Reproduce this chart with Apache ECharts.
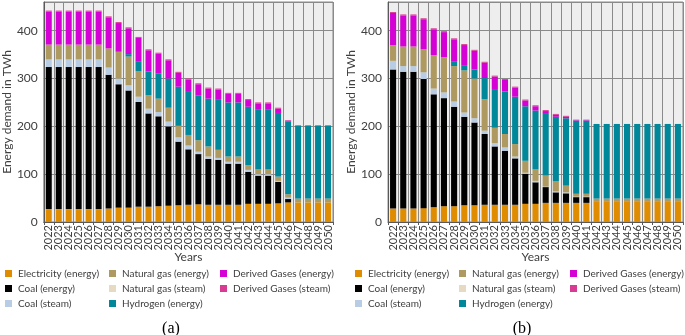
<!DOCTYPE html>
<html>
<head>
<meta charset="utf-8">
<script src="https://cdn.jsdelivr.net/npm/echarts@6/dist/echarts.min.js"></script>
<style>
  html, body { margin: 0; padding: 0; background: #fff; }
  #chart { width: 685px; height: 335px; }
</style>
</head>
<body>
<div id="chart"></div>
<script>
// years 2022-2050
const years = ["2022","2023","2024","2025","2026","2027","2028","2029","2030","2031","2032","2033","2034","2035","2036","2037","2038","2039","2040","2041","2042","2043","2044","2045","2046","2047","2048","2049","2050"];
const yTicks = [0, 100, 200, 300, 400];

// panel (a), TWh
const elecA  = [27,27,27,27,27,27,28,30,30,32,32,33,34,35,36,37,36,36,36,36,38,38,38,39,41,41,41,41,41];
const coalEA = [297,297,297,297,297,297,280,258,245,219,195,188,166,133,116,105,96,94,86,86,67,59,59,45,7,0,0,0,0];
const coalSA = [16,16,16,16,16,16,15,12,11,11,10,9,10,9,8,5,5,4,4,4,4,3,3,2,3,0,0,0,0];
const ngEA   = [31,31,31,31,31,31,40,56,60,53,28,28,29,24,22,24,21,17,11,11,10,10,10,9,7,8,8,8,8];
const ngSA   = [0,0,0,0,0,0,0,0,0,0,0,0,0,0,0,0,0,0,0,0,0,0,0,0,0,0,0,0,0];
const h2A    = [0,0,0,0,0,0,0,0,5,20,50,53,61,82,90,94,100,106,113,113,122,126,126,133,152,153,153,153,153];
const dgEA   = [69,69,69,69,69,69,65,60,54,50,44,41,38,29,26,23,21,20,18,18,14,12,12,9,2,0,0,0,0];
const dgSA   = [2,2,2,2,2,2,2,2,2,2,2,2,2,2,2,2,2,2,2,2,2,2,2,2,1,0,0,0,0];

// panel (b), TWh
const elecB  = [28,28,28,29,31,33,33,35,35,36,36,36,36,38,38,40,40,40,40,40,42,42,42,42,42,42,42,42,42];
const coalEB = [291,286,286,270,236,226,208,185,173,148,122,113,97,63,45,33,22,20,12,12,0,0,0,0,0,0,0,0,0];
const coalSB = [18,12,12,14,12,12,11,9,9,7,7,7,4,2,3,1,2,2,1,1,0,0,0,0,0,0,0,0,0];
const ngEB   = [33,41,41,48,70,74,74,88,83,66,32,28,26,25,24,23,21,14,6,6,7,7,7,7,7,7,7,7,7];
const ngSB   = [0,0,0,0,0,0,0,0,0,0,0,0,0,0,0,0,0,0,0,0,0,0,0,0,0,0,0,0,0];
const h2B    = [0,0,0,0,0,0,9,11,19,44,81,89,99,114,123,129,135,141,153,153,156,156,156,156,156,156,156,156,156];
const dgEB   = [67,65,65,63,54,52,47,42,39,32,26,24,19,12,9,6,4,3,1,1,0,0,0,0,0,0,0,0,0];
const dgSB   = [2,2,2,2,2,2,2,2,2,2,2,2,2,2,2,2,2,2,1,1,0,0,0,0,0,0,0,0,0];

const names = ["Electricity (energy)", "Coal (energy)", "Coal (steam)", "Natural gas (energy)",
  "Natural gas (steam)", "Hydrogen (energy)", "Derived Gases (energy)", "Derived Gases (steam)"];
const colors = ["#E08C00", "#000000", "#B8CCE4", "#AE9A60", "#E6DBC2", "#00879A", "#D400D4", "#D83C92"];

const FONT = "Lato";
const txt = "#404040";
const gridLine = "#8a8a8a";

function makeX(idx) {
  return {
    type: "category", gridIndex: idx, data: years,
    name: "Years", nameLocation: "middle", nameGap: 29, nameMoveOverlap: false,
    nameTextStyle: { fontFamily: FONT, fontSize: 12, color: txt },
    axisLine: { lineStyle: { color: "#595959" } },
    axisTick: { show: true, length: 3, lineStyle: { color: "#595959" } },
    axisLabel: { rotate: 90, interval: 0, fontFamily: FONT, fontSize: 11, color: txt, margin: 3 },
    splitLine: { show: true, interval: 0, lineStyle: { color: gridLine, width: 1 } }
  };
}
function makeY(idx) {
  return {
    type: "value", gridIndex: idx, min: 0, max: 460, interval: 100,
    name: "Energy demand in TWh", nameLocation: "middle", nameGap: 29, nameRotate: 90,
    nameTextStyle: { fontFamily: FONT, fontSize: 12, color: txt },
    axisLine: { show: true, lineStyle: { color: "#595959" } },
    axisTick: { show: false },
    axisLabel: {
      fontFamily: FONT, fontSize: 12, color: txt, margin: 6,
      formatter: v => yTicks.indexOf(v) >= 0 ? String(v) : ""
    },
    splitLine: { lineStyle: { color: gridLine, width: 1 } }
  };
}

const dataA = [elecA, coalEA, coalSA, ngEA, ngSA, h2A, dgEA, dgSA];
const dataB = [elecB, coalEB, coalSB, ngEB, ngSB, h2B, dgEB, dgSB];
const series = [];
[dataA, dataB].forEach((set, p) => {
  set.forEach((arr, i) => {
    series.push({
      name: names[i], type: "bar", stack: "s" + p,
      xAxisIndex: p, yAxisIndex: p, data: arr,
      barCategoryGap: "40%",
      itemStyle: { color: colors[i] },
      emphasis: { disabled: true }
    });
  });
});

function legendCol(left, top, items) {
  return {
    orient: "vertical", left: left, top: top, padding: 0, itemGap: 0,
    itemWidth: 7, itemHeight: 7, icon: "rect", selectedMode: false,
    textStyle: { fontFamily: FONT, fontSize: 10, color: txt, lineHeight: 15, padding: [0, 0, 0, 1] },
    data: items
  };
}

const chart = echarts.init(document.getElementById("chart"));
chart.setOption({
  animation: false,
  color: colors,
  grid: [
    { left: 37, top: 2, width: 296, height: 220, show: true, backgroundColor: "#eeeeee", borderColor: "#8a8a8a" },
    { left: 388, top: 2, width: 295, height: 220, show: true, backgroundColor: "#eeeeee", borderColor: "#8a8a8a" }
  ],
  xAxis: [makeX(0), makeX(1)],
  yAxis: [makeY(0), makeY(1)],
  legend: [
    legendCol(5, 266, names.slice(0, 3)),
    legendCol(109, 266, names.slice(3, 6)),
    legendCol(220, 266, names.slice(6, 8)),
    legendCol(355, 266, names.slice(0, 3)),
    legendCol(459, 266, names.slice(3, 6)),
    legendCol(570, 266, names.slice(6, 8))
  ],
  title: [
    { text: "(a)", left: 166, top: 316, textAlign: "center",
      textStyle: { fontFamily: "Liberation Serif", fontSize: 16, fontWeight: "normal", color: "#000" } },
    { text: "(b)", left: 517, top: 316, textAlign: "center",
      textStyle: { fontFamily: "Liberation Serif", fontSize: 16, fontWeight: "normal", color: "#000" } }
  ],
  series: series
});
</script>
</body>
</html>
